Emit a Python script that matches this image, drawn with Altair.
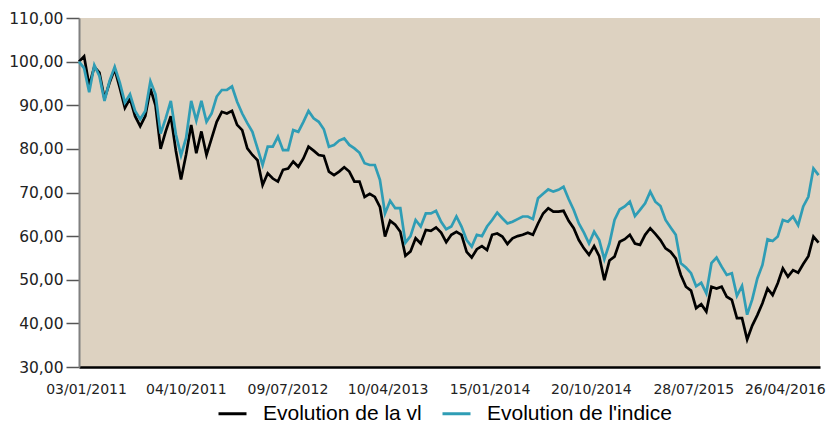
import altair as alt
import pandas as pd

series_names = ["Evolution de la vl", "Evolution de l'indice"]
series_colors = ["#000000", "#2f9db5"]

vl = [100.0, 101.2, 94.5, 98.8, 97.5, 91.5, 95.2, 98.3, 94.0, 89.4,
      91.5, 87.5, 85.2, 87.5, 93.8, 90.0, 80.0, 84.0, 87.5, 79.5,
      73.0, 78.7, 85.5, 79.0, 84.0, 78.6, 82.4, 86.2, 88.5, 88.1,
      88.7, 85.5, 84.3, 80.1, 78.6, 77.4, 71.7, 74.4, 73.2, 72.5,
      75.2, 75.5, 77.1, 75.9, 77.8, 80.5, 79.6, 78.6, 78.4, 74.8,
      74.0, 74.8, 75.8, 74.8, 72.5, 72.5, 69.0, 69.7, 69.0, 66.7,
      59.9, 63.5, 62.6, 61.0, 55.5, 56.5, 59.5, 58.3, 61.4, 61.2,
      62.0, 60.8, 58.6, 60.3, 61.0, 60.3, 56.4, 55.1, 57.0, 57.7,
      56.8, 60.3, 60.6, 59.9, 58.2, 59.5, 60.0, 60.3, 60.8, 60.3,
      62.9, 65.2, 66.4, 65.6, 65.6, 65.8, 63.5, 61.8, 59.1, 57.2,
      55.7, 57.7, 55.4, 49.9, 54.4, 55.3, 58.7, 59.3, 60.3, 58.3,
      58.0, 60.3, 61.8, 60.5, 59.1, 57.2, 56.4, 54.9, 51.1, 48.4,
      47.5, 43.5, 44.4, 42.7, 48.4, 48.0, 48.4, 46.1, 45.4, 41.2,
      41.2, 36.3, 39.5, 41.9, 44.6, 48.0, 46.5, 49.2, 52.6, 50.7,
      52.2, 51.6, 53.6, 55.4, 59.9, 58.5]

indice = [100.0, 98.5, 93.0, 99.2, 96.7, 91.0, 95.6, 98.8, 95.2, 90.6,
          92.5, 88.7, 86.8, 88.7, 95.5, 92.5, 83.5, 87.0, 91.0, 83.3,
          78.5, 82.5, 91.0, 86.5, 91.0, 86.2, 88.1, 92.0, 93.5, 93.5,
          94.3, 90.8, 88.1, 85.9, 83.9, 80.1, 76.3, 80.5, 80.5, 82.8,
          79.7, 79.7, 84.3, 83.9, 86.2, 88.7, 87.0, 86.2, 84.5, 80.5,
          80.9, 81.9, 82.4, 80.9, 80.1, 79.1, 76.7, 76.3, 76.3, 72.9,
          65.2, 68.1, 66.4, 66.4, 58.5, 60.0, 63.7, 62.2, 65.2, 65.2,
          65.8, 63.3, 61.6, 62.2, 64.5, 62.2, 59.1, 57.6, 60.3, 60.0,
          62.2, 63.7, 65.4, 64.1, 62.9, 63.3, 63.9, 64.5, 64.5, 63.9,
          68.7, 69.7, 70.7, 70.2, 70.6, 71.3, 68.5, 66.0, 62.9, 60.8,
          58.3, 61.0, 59.1, 54.7, 58.3, 63.7, 66.1, 66.8, 67.9, 64.6,
          66.0, 67.5, 70.2, 67.9, 66.9, 63.7, 62.0, 60.3, 53.8, 52.8,
          51.5, 48.5, 49.3, 46.9, 53.8, 55.1, 53.0, 51.1, 51.5, 46.3,
          48.6, 42.0, 45.5, 50.3, 53.4, 59.3, 58.9, 59.9, 63.7, 63.3,
          64.5, 62.5, 66.8, 69.0, 75.5, 74.0]

# one reading every two weeks, starting on the first day shown
dates = pd.date_range("2011-01-03", periods=len(vl), freq="14D")
tick_dates = [(2011, 1, 3), (2011, 10, 4), (2012, 7, 9), (2013, 4, 10),
              (2014, 1, 15), (2014, 10, 20), (2015, 7, 28), (2016, 4, 26)]
y_ticks = [30, 40, 50, 60, 70, 80, 90, 100, 110]

date_str = [d.strftime("%Y-%m-%dT00:00:00") for d in dates]
df = pd.DataFrame({
    "date": date_str + date_str,
    "value": vl + indice,
    "serie": [series_names[0]] * len(vl) + [series_names[1]] * len(indice),
})

x_axis = alt.Axis(
    values=[alt.DateTime(year=y, month=m, date=d) for y, m, d in tick_dates],
    format="%d/%m/%Y", title=None, ticks=False, grid=False,
    labelPadding=15,
    labelOffset={"condition": {"test": "datum.value > 1450000000000", "value": -1},
                 "value": 7},
    labelFontSize=14, labelFont="DejaVu Sans",
    labelColor="#222222", domainColor="#000000", domainWidth=2.5,
    labelFlush=False, labelOverlap=False,
)
y_axis = alt.Axis(
    values=y_ticks, labelExpr="replace(format(datum.value, '.2f'), '.', ',')",
    title=None, grid=False, tickSize=13, tickColor="#555555", tickWidth=1.5,
    domainColor="#808080", domainWidth=2, labelPadding=3, labelFontSize=15.5,
    labelFont="DejaVu Sans", labelColor="#222222",
)
legend = alt.Legend(
    orient="none", legendX=138, legendY=380, direction="horizontal", columns=2,
    symbolType="stroke", symbolSize=784, symbolStrokeWidth=3,
    labelFont="Liberation Sans", labelFontSize=21, labelColor="#000000",
    labelOffset=15, columnPadding=14, title=None, padding=0, labelLimit=400,
)

chart = alt.Chart(df).mark_line(strokeWidth=2.7).encode(
    x=alt.X("date:T", axis=x_axis,
            scale=alt.Scale(domain=[alt.DateTime(year=2011, month=1, date=3),
                                    alt.DateTime(year=2016, month=7, date=29)],
                            nice=False)),
    y=alt.Y("value:Q", axis=y_axis,
            scale=alt.Scale(domain=[30, 110], nice=False, zero=False)),
    color=alt.Color("serie:N", legend=legend,
                    scale=alt.Scale(domain=series_names, range=series_colors)),
).properties(
    width=741, height=349,
    padding={"left": 71, "top": 10, "right": 6, "bottom": 58},
    autosize=alt.AutoSizeParams(type="none"),
    background="white",
).configure_view(fill="#ddd2c1", strokeWidth=0)

chart.save("out.html", embed_options={"renderer": "svg", "actions": False})
